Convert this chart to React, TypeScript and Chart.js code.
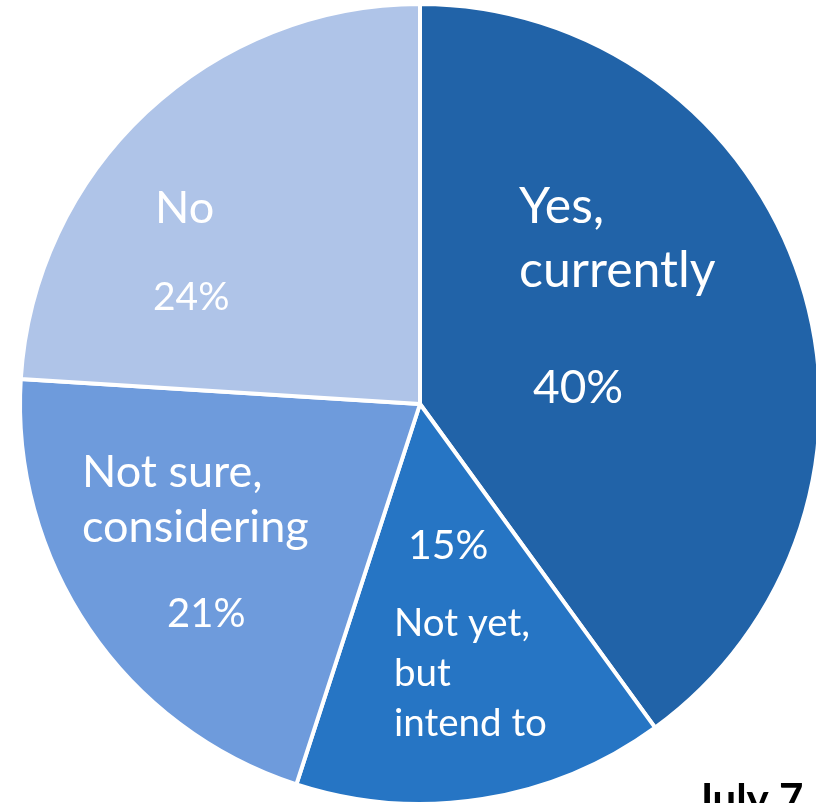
import React, { useEffect, useRef } from "react";
import { Chart, registerables } from "chart.js";

Chart.register(...registerables);

// ---- data ----
const labelLines: string[][] = [
  ["Yes,", "currently"],
  ["Not yet,", "but", "intend to"],
  ["Not sure,", "considering"],
  ["No"],
];
const categories: string[] = labelLines.map((l) => l.join(" "));
const values: number[] = [40, 15, 21, 24];
const sliceColors: string[] = ["#2163A8", "#2675C4", "#6E9BDC", "#AFC4E8"];
const dateLabel = "July 7";

// ---- label styling (offsets relative to pie centre, in px at radius 400) ----
type LabelStyle = {
  nameX: number; nameY: number; nameSize: number; lineH: number;
  pctX: number; pctY: number; pctSize: number;
};
const labelStyles: LabelStyle[] = [
  { nameX: 99, nameY: -181, nameSize: 50, lineH: 64, pctX: 113, pctY: -1, pctSize: 46 },
  { nameX: -26, nameY: 232, nameSize: 38.5, lineH: 50, pctX: -12, pctY: 155, pctSize: 41 },
  { nameX: -338, nameY: 83, nameSize: 45, lineH: 55, pctX: -253, pctY: 223, pctSize: 40 },
  { nameX: -265, nameY: -181, nameSize: 45, lineH: 60, pctX: -267, pctY: -94, pctSize: 39 },
];
const FONT = "Lato, 'Open Sans', sans-serif";

const labelPlugin = {
  id: "sliceLabels",
  afterDraw(chart: any) {
    const meta = chart.getDatasetMeta(0);
    const arc = meta.data[0];
    if (!arc) return;
    const cx = arc.x;
    const cy = arc.y;
    const k = arc.outerRadius / 400;
    const ctx = chart.ctx;
    ctx.save();
    ctx.fillStyle = "#FFFFFF";
    ctx.textAlign = "left";
    ctx.textBaseline = "alphabetic";
    labelLines.forEach((lines, i) => {
      const s = labelStyles[i];
      ctx.font = `${s.nameSize * k}px ${FONT}`;
      lines.forEach((line, j) => {
        ctx.fillText(line, cx + s.nameX * k, cy + (s.nameY + j * s.lineH) * k);
      });
      ctx.font = `${s.pctSize * k}px ${FONT}`;
      ctx.fillText(`${values[i]}%`, cx + s.pctX * k, cy + s.pctY * k);
    });
    // date caption
    ctx.fillStyle = "#000000";
    ctx.font = `bold ${42 * k}px ${FONT}`;
    ctx.fillText(dateLabel, cx + 275 * k, cy + 410 * k);
    ctx.restore();
  },
};

export default function App() {
  const canvasRef = useRef<HTMLCanvasElement | null>(null);

  useEffect(() => {
    if (!canvasRef.current) return;
    const chart = new Chart(canvasRef.current, {
      type: "pie",
      data: {
        labels: categories,
        datasets: [
          {
            data: values,
            backgroundColor: sliceColors,
            borderColor: "#FFFFFF",
            borderWidth: 4,
          },
        ],
      },
      options: {
        responsive: false,
        animation: false,
        layout: { padding: { left: 18, right: 18, top: 2, bottom: 2 } },
        plugins: {
          legend: { display: false },
          tooltip: { enabled: false },
          title: { display: false },
        },
      },
      plugins: [labelPlugin],
    });
    return () => chart.destroy();
  }, []);

  return (
    <div
      style={{
        position: "fixed",
        left: 0,
        top: 0,
        width: 816,
        height: 803,
        overflow: "hidden",
        background: "#FFFFFF",
      }}
    >
      <canvas ref={canvasRef} width={840} height={808} style={{ display: "block" }} />
    </div>
  );
}
